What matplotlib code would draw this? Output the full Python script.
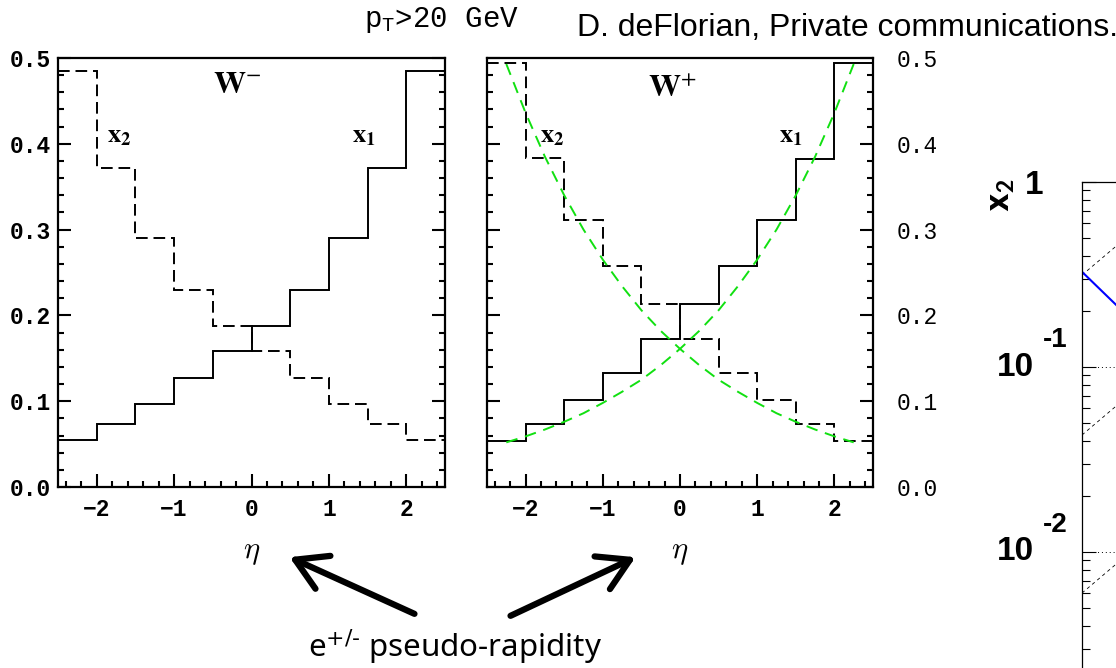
import matplotlib
matplotlib.use("Agg")
import matplotlib.pyplot as plt
from matplotlib.ticker import MultipleLocator, NullFormatter, LogLocator
from matplotlib.patches import FancyArrowPatch

plt.rcParams["mathtext.fontset"] = "custom"
plt.rcParams["mathtext.rm"] = "Liberation Mono"

# ---------------------------------------------------------------------------
# data
# ---------------------------------------------------------------------------
eta_edges = [-2.5, -2.0, -1.5, -1.0, -0.5, 0.0, 0.5, 1.0, 1.5, 2.0, 2.5]

# W- : mean momentum fractions per lepton eta bin
wm_x1 = [0.055, 0.073, 0.097, 0.127, 0.159, 0.188, 0.230, 0.290, 0.372, 0.485]
wm_x2 = [0.485, 0.372, 0.290, 0.230, 0.188, 0.159, 0.127, 0.097, 0.073, 0.055]

# W+
wp_x1 = [0.054, 0.074, 0.101, 0.133, 0.172, 0.213, 0.258, 0.311, 0.382, 0.494]
wp_x2 = [0.494, 0.383, 0.311, 0.258, 0.213, 0.172, 0.133, 0.101, 0.074, 0.054]

# LO kinematics overlay on the W+ panel
lo_eta = [-2.25, -2.0, -1.75, -1.5, -1.25, -1.0, -0.75, -0.5, -0.25, 0.0,
          0.25, 0.5, 0.75, 1.0, 1.25, 1.5, 1.75, 2.0, 2.25]
lo_x1 = [0.052, 0.059, 0.067, 0.076, 0.086, 0.098, 0.111, 0.125, 0.142, 0.161,
         0.182, 0.206, 0.234, 0.265, 0.300, 0.340, 0.385, 0.436, 0.493]
lo_x2 = lo_x1[::-1]

# x1-x2 plane (log-log)
xx_x = [1e-3, 2e-3]
xx_blue = [0.327, 0.167]
xx_dashed = [[0.314, 0.565], [0.0429, 0.0772], [0.0060, 0.0108]]
xx_grid = [1e-1, 1e-2]

W, H = 1116, 668
fig = plt.figure(figsize=(W / 100, H / 100), dpi=100)


def fr(x, y):
    return x / W, 1 - y / H


def style_panel(ax, right_labels):
    for s in ax.spines.values():
        s.set_linewidth(1.6)
    ax.set_xlim(-2.5, 2.5)
    ax.set_ylim(0, 0.5)
    ax.xaxis.set_major_locator(MultipleLocator(1))
    ax.xaxis.set_minor_locator(MultipleLocator(0.2))
    ax.yaxis.set_major_locator(MultipleLocator(0.1))
    ax.yaxis.set_minor_locator(MultipleLocator(0.02))
    ax.tick_params(which="both", direction="in", top=False, bottom=True,
                   left=True, right=True, width=1.5)
    ax.tick_params(which="major", length=9.5)
    ax.tick_params(which="minor", length=4)
    ax.tick_params(axis="x", pad=8)
    if right_labels:
        ax.tick_params(axis="y", labelleft=False, labelright=True, pad=17)
    else:
        ax.tick_params(axis="y", pad=5)
    ax.yaxis.set_major_formatter(plt.FuncFormatter(lambda v, p: f"{v:.1f}"))
    for lab in ax.get_xticklabels() + ax.get_yticklabels():
        lab.set_family("Liberation Mono")
        lab.set_fontsize(16.5)
        lab.set_fontweight("bold")
    if right_labels:
        for lab in ax.get_yticklabels():
            lab.set_fontweight("normal")
    ax.set_xlabel(r"$\eta$", math_fontfamily="cm", fontsize=22, labelpad=12)


def draw_steps(ax, x1, x2):
    ax.stairs(x1, eta_edges, baseline=None, color="k", lw=1.4)
    ax.stairs(x2, eta_edges, baseline=None, color="k", lw=1.4,
              linestyle=(0, (6, 3)))


def labels(ax, wname, wx, wy, x2pos, x1pos):
    ax.text(wx, wy, wname, math_fontfamily="stix", fontsize=23,
            ha="center", va="center")
    ax.text(x2pos, 0.41, r"$\mathbf{x}_\mathbf{2}$", math_fontfamily="stix",
            fontsize=19, ha="left", va="center")
    ax.text(x1pos, 0.41, r"$\mathbf{x}_\mathbf{1}$", math_fontfamily="stix",
            fontsize=19, ha="left", va="center")


# W- panel
ax1 = fig.add_axes([58 / W, 1 - 487 / H, 387 / W, 429 / H])
draw_steps(ax1, wm_x1, wm_x2)
style_panel(ax1, right_labels=False)
labels(ax1, r"$\mathbf{W}^{-}$", -0.19, 0.469, -1.87, 1.30)

# W+ panel
ax2 = fig.add_axes([487 / W, 1 - 487 / H, 386 / W, 429 / H])
draw_steps(ax2, wp_x1, wp_x2)
ax2.plot(lo_eta, lo_x1, color="#11e011", lw=1.4, dashes=(6, 4))
ax2.plot(lo_eta, lo_x2, color="#11e011", lw=1.4, dashes=(6, 4))
style_panel(ax2, right_labels=True)
labels(ax2, r"$\mathbf{W}^{+}$", -0.10, 0.465, -1.81, 1.28)

# x1-x2 plane, only its left edge fits on the page
ax3 = fig.add_axes([1082 / W, 1 - 737 / H, 555 / W, 555 / H])
ax3.set_xscale("log")
ax3.set_yscale("log")
ax3.set_xlim(1e-3, 1)
ax3.set_ylim(1e-3, 1)
for g in xx_grid:
    ax3.axhline(g, color="k", lw=0.7, linestyle=(0, (1, 3)))
for d in xx_dashed:
    ax3.plot(xx_x, d, color="k", lw=0.6, dashes=(4, 4))
ax3.plot(xx_x, xx_blue, color="#0000ff", lw=1.5)
for s in ax3.spines.values():
    s.set_linewidth(0.9)
ax3.yaxis.set_minor_locator(LogLocator(subs=range(2, 10)))
ax3.yaxis.set_minor_formatter(NullFormatter())
ax3.tick_params(which="both", direction="in", left=True, right=False,
                top=False, bottom=False, labelleft=False, labelbottom=False,
                width=0.8)
ax3.tick_params(which="major", length=10)
ax3.tick_params(which="minor", length=5.5)
ytr = ax3.get_yaxis_transform()
big = dict(family="Liberation Sans", weight="bold", fontsize=24,
           xycoords=ytr, textcoords="offset pixels", va="center")
ax3.annotate("1", xy=(0, 1), xytext=(-39, -3), ha="right", **big)
for g, e in zip(xx_grid, ["-1", "-2"]):
    ax3.annotate("10", xy=(0, g), xytext=(-48, 0), ha="right", **big)
    ax3.annotate(e, xy=(0, g), xytext=(-14, 27), ha="right",
                 **{**big, "fontsize": 20})
fig.text(*fr(1000, 195), r"$\mathbf{x}_\mathbf{2}$", math_fontfamily="stixsans",
         fontsize=27, rotation=90, ha="center", va="center")

# headers
fig.text(*fr(364, 20), r"$\mathrm{p}_\mathrm{T}$>20 GeV", family="Liberation Mono",
         math_fontfamily="custom", fontsize=21, ha="left", va="center")
fig.text(*fr(577, 28), "D. deFlorian, Private communications.",
         family="Liberation Sans", fontsize=23, ha="left", va="center")

# arrows to the two eta axes
for tail, tip in [((417, 615), (287, 556)), ((508, 617), (638, 556))]:
    fig.patches.append(FancyArrowPatch(
        fr(*tail), fr(*tip), transform=fig.transFigure,
        arrowstyle="->,head_length=1.1,head_width=0.65", mutation_scale=20,
        lw=4.5, color="k"))
fig.text(*fr(455, 647), r"e$^{\text{+/-}}$ pseudo-rapidity", family="Noto Sans",
         math_fontfamily="dejavusans", fontsize=22.5, ha="center", va="center")

fig.savefig("out.png", dpi=100)
